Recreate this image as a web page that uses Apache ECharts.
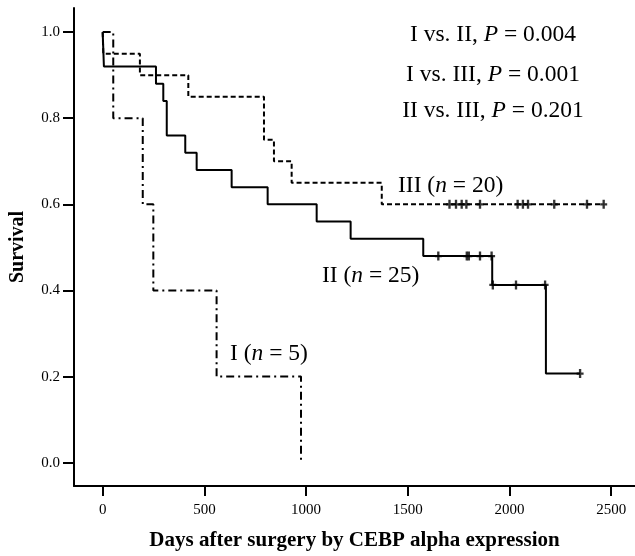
<!DOCTYPE html>
<html>
<head>
<meta charset="utf-8">
<script src="https://cdn.jsdelivr.net/npm/echarts@6/dist/echarts.min.js"></script>
<style>
  html, body { margin: 0; padding: 0; background: #fff; }
  #chart { width: 635px; height: 556px; }
</style>
</head>
<body>
<div id="chart"></div>
<script>
// ---- Data ----
var xTicks = [0, 500, 1000, 1500, 2000, 2500];
var yTicks = [0.0, 0.2, 0.4, 0.6, 0.8, 1.0];

// Group I (n = 5): [day, survival]
var groupI = [[0, 1.0], [52, 0.8], [197, 0.6], [249, 0.4], [560, 0.2], [975, 0.0]];
// Group II (n = 25)
var groupII = [[0, 1.0], [3, 0.96], [6, 0.92], [262, 0.88], [298, 0.84], [315, 0.76],
  [406, 0.72], [462, 0.68], [634, 0.64], [811, 0.60], [1052, 0.56], [1219, 0.52],
  [1576, 0.48], [1915, 0.413], [2179, 0.207], [2347, 0.207]];
// Group III (n = 20)
var groupIII = [[0, 1.0], [3, 0.95], [183, 0.90], [421, 0.85], [793, 0.75], [842, 0.70],
  [929, 0.65], [1372, 0.60], [2461, 0.60]];

// Censored observations
var censorII = [[1650, 0.48], [1790, 0.48], [1800, 0.48], [1855, 0.48], [1912, 0.48],
  [1918, 0.413], [2032, 0.413], [2175, 0.413], [2347, 0.207]];
var censorIII = [[1705, 0.60], [1737, 0.60], [1765, 0.60], [1788, 0.60], [1855, 0.60],
  [2040, 0.60], [2066, 0.60], [2091, 0.60], [2220, 0.60], [2381, 0.60], [2463, 0.60]];

var xName = 'Days after surgery by CEBP alpha expression';
var yName = 'Survival';
var pTexts = [['I vs. II, ', '0.004'], ['I vs. III, ', '0.001'], ['II vs. III, ', '0.201']];
var groupLabels = [['III ', '20'], ['II ', '25'], ['I ', '5']];

// ---- Chart ----
var SERIF = '"Liberation Serif", "DejaVu Serif", serif';
var plusPath = 'path://M2,0 H4 V3 H6 V5 H4 V8 H2 V5 H0 V3 H2 Z';
var ANN = 23.5;

var chart = echarts.init(document.getElementById('chart'), null, { renderer: 'canvas' });

function richStyles(size) {
  return {
    r: { fontFamily: SERIF, fontSize: size, color: '#000' },
    i: { fontFamily: SERIF, fontSize: size, fontStyle: 'italic', color: '#000' }
  };
}

var graphics = [];
var pY = [35, 75, 111];
pTexts.forEach(function (p, i) {
  graphics.push({
    type: 'text', x: 493, y: pY[i],
    style: { text: '{r|' + p[0] + '}{i|P}{r| = ' + p[1] + '}', rich: richStyles(ANN),
      align: 'center', verticalAlign: 'middle' }
  });
});
var gPos = [[398, 186], [322, 276], [230, 354]];
groupLabels.forEach(function (g, i) {
  graphics.push({
    type: 'text', x: gPos[i][0], y: gPos[i][1],
    style: { text: '{r|' + g[0] + '(}{i|n}{r| = ' + g[1] + ')}', rich: richStyles(ANN),
      align: 'left', verticalAlign: 'middle' }
  });
});

var option = {
  backgroundColor: '#fff',
  animation: false,
  grid: { left: 74, right: 0, top: 8, bottom: 69, containLabel: false },
  xAxis: {
    type: 'value', min: -141, max: 2617,
    name: xName, nameLocation: 'middle', nameGap: 44,
    nameTextStyle: { fontFamily: SERIF, fontSize: 21, fontWeight: 'bold', color: '#000' },
    axisLine: { show: true, onZero: false, lineStyle: { color: '#000', width: 2 } },
    axisTick: { show: true, customValues: xTicks, length: 10, lineStyle: { color: '#000', width: 2 } },
    axisLabel: { customValues: xTicks, margin: 17, fontFamily: SERIF, fontSize: 15, color: '#000',
      formatter: function (v) { return String(v); } },
    splitLine: { show: false }
  },
  yAxis: {
    type: 'value', min: -0.054, max: 1.056,
    name: yName, nameLocation: 'middle', nameGap: 46, nameRotate: 90,
    nameTextStyle: { fontFamily: SERIF, fontSize: 20, fontWeight: 'bold', color: '#000' },
    axisLine: { show: true, onZero: false, lineStyle: { color: '#000', width: 2 } },
    axisTick: { show: true, customValues: yTicks, length: 11, lineStyle: { color: '#000', width: 2 } },
    axisLabel: { customValues: yTicks, margin: 14, fontFamily: SERIF, fontSize: 15, color: '#000',
      formatter: function (v) { return v.toFixed(1); } },
    splitLine: { show: false }
  },
  series: [
    { name: 'I', type: 'line', step: 'end', data: groupI, showSymbol: false, symbol: 'none',
      lineStyle: { color: '#000', width: 2, type: [8, 4, 2, 4] } },
    { name: 'III', type: 'line', step: 'end', data: groupIII, showSymbol: false, symbol: 'none',
      lineStyle: { color: '#000', width: 2, type: [5, 3] } },
    { name: 'II', type: 'line', step: 'end', data: groupII, showSymbol: false, symbol: 'none',
      lineStyle: { color: '#000', width: 2, type: 'solid' } },
    { name: 'II censored', type: 'scatter', data: censorII, symbol: plusPath, symbolSize: [7, 9],
      itemStyle: { color: '#000' } },
    { name: 'III censored', type: 'scatter', data: censorIII, symbol: plusPath, symbolSize: [7, 9],
      itemStyle: { color: '#000' } }
  ],
  graphic: graphics
};
chart.setOption(option);
</script>
</body>
</html>
